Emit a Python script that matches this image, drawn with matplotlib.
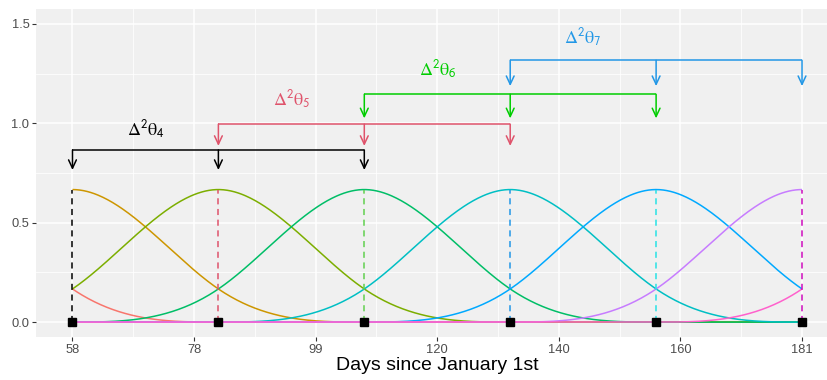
import numpy as np
import matplotlib as mpl
mpl.use('Agg')
import matplotlib.pyplot as plt

# knot vector of the cubic B-spline basis (interior knots 58..181)
knots = [-15.8, 8.8, 33.4, 58, 82.6, 107.2, 131.8, 156.4, 181, 205.6, 230.2, 254.8]
inner_knots = [58, 82.6, 107.2, 131.8, 156.4, 181]
basis_colors = ['#F8766D', '#CD9600', '#7CAE00', '#00BE67',
                '#00BFC4', '#00A9FF', '#C77CFF', '#FF61CC']
knot_colors = ['black', '#DF536B', '#61D04F', '#2297E6', '#28E2E5', '#CD0BBC']

# second-difference brackets
delta_idx = ['4', '5', '6', '7']
bracket_y = [0.866, 0.996, 1.146, 1.317]
arrow_tip = [0.765, 0.886, 1.025, 1.187]
label_y = [0.966, 1.117, 1.268, 1.43]
bracket_colors = ['black', '#DF536B', '#00CD00', '#2297E6']

x_breaks = [58, 78.5, 99, 119.5, 140, 160.5, 181]
x_labels = ['58', '78', '99', '120', '140', '160', '181']
y_breaks = [0.0, 0.5, 1.0, 1.5]
y_labels = ['0.0', '0.5', '1.0', '1.5']


def bspline(x, t, i, k):
    # Cox-de Boor recursion
    if k == 0:
        return ((x >= t[i]) & (x < t[i + 1])).astype(float)
    left = (x - t[i]) / (t[i + k] - t[i]) * bspline(x, t, i, k - 1)
    right = (t[i + k + 1] - x) / (t[i + k + 1] - t[i + 1]) * bspline(x, t, i + 1, k - 1)
    return left + right


plt.rcParams['font.family'] = ['Liberation Sans', 'DejaVu Sans']
plt.rcParams['mathtext.fontset'] = 'stix'

fig = plt.figure(figsize=(8.28, 3.8), dpi=100)
ax = fig.add_axes([36 / 828, 43 / 380, 802.5 / 828, 328 / 380])
ax.set_facecolor('#F0F0F0')
for s in ax.spines.values():
    s.set_visible(False)

xs = np.linspace(inner_knots[0], inner_knots[-1], 600)
xs_eval = xs.copy()
xs_eval[-1] -= 1e-9
for i, c in enumerate(basis_colors):
    ax.plot(xs, bspline(xs_eval, knots, i, 3), color=c, lw=1.1, zorder=3,
            solid_capstyle='butt')

# dashed lines at the knots up to the basis peak
for j, (kx, c) in enumerate(zip(inner_knots, knot_colors)):
    xe = np.array([kx - 1e-9 if j == len(inner_knots) - 1 else kx])
    peak = bspline(xe, knots, j + 1, 3)[0]
    ax.plot([kx, kx], [0, peak], color=c, lw=1.1, ls=(0, (4, 3)), zorder=4)
ax.plot(inner_knots, [0] * len(inner_knots), 's', color='black', ms=5.2, zorder=5)

for i in range(4):
    c = bracket_colors[i]
    x3 = inner_knots[i:i + 3]
    ax.plot([x3[0], x3[2]], [bracket_y[i]] * 2, color=c, lw=1.1, zorder=6,
            solid_capstyle='butt')
    for xv in x3:
        ax.annotate('', xy=(xv, arrow_tip[i]), xytext=(xv, bracket_y[i]),
                    arrowprops=dict(arrowstyle='->,head_length=0.6,head_width=0.28',
                                    color=c, lw=1.1, shrinkA=0, shrinkB=0,
                                    mutation_scale=10), zorder=6)
    ax.text((x3[0] + x3[1]) / 2, label_y[i],
            r'$\mathrm{\Delta}^{\mathsf{2}}\mathrm{\theta}_{\mathsf{%s}}$' % delta_idx[i],
            color=c, fontsize=13, ha='center', va='center', zorder=6)

ax.set_xlim(51.85, 187.15)
ax.set_ylim(-0.075, 1.575)
ax.set_xticks(x_breaks)
ax.set_xticklabels(x_labels)
ax.set_yticks(y_breaks)
ax.set_yticklabels(y_labels)
ax.set_xticks([(a + b) / 2 for a, b in zip(x_breaks[:-1], x_breaks[1:])], minor=True)
ax.set_yticks([0.25, 0.75, 1.25], minor=True)
ax.grid(which='major', color='white', lw=1.1)
ax.grid(which='minor', color='white', lw=0.55)
ax.set_axisbelow(True)
ax.tick_params(which='major', length=2.75, width=0.8, color='#333333',
               labelsize=9.3, labelcolor='#4D4D4D', pad=2)
ax.tick_params(which='minor', length=0)
ax.set_xlabel('Days since January 1st', fontsize=14, labelpad=1)

fig.savefig('out.png', dpi=100)
